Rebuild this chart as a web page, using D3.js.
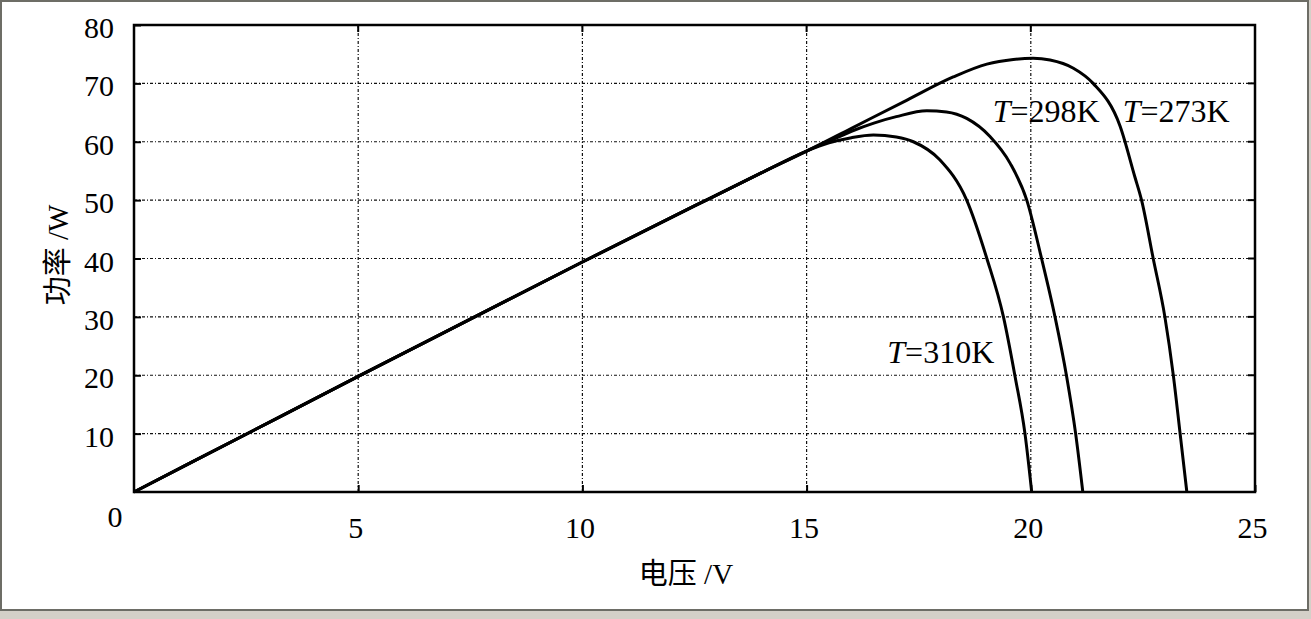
<!DOCTYPE html>
<html>
<head>
<meta charset="utf-8">
<script src="https://cdn.jsdelivr.net/npm/d3@7"></script>
<style>
  html, body { margin: 0; padding: 0; background: #fff; }
  svg { display: block; }
</style>
</head>
<body>
<svg id="chart" width="1311" height="619"></svg>
<script>
// ---- data ----
const xTicks = [0, 5, 10, 15, 20, 25];
const yTicks = [10, 20, 30, 40, 50, 60, 70, 80];

const v310 = [0, 2.5, 5, 7.5, 10, 12.5, 14, 15, 15.5, 16, 16.49, 17, 17.38, 17.97, 18.57, 19.02, 19.39, 19.65, 19.87, 20.02];
const p310 = [0, 9.9, 19.8, 29.6, 39.4, 49.0, 54.7, 58.4, 59.8, 60.7, 61.15, 60.8, 60.0, 56.9, 50.0, 40.0, 30.0, 19.75, 10.0, 0];

const v298 = [0, 2.5, 5, 7.5, 10, 12.5, 14, 15, 15.5, 16, 16.5, 17, 17.68, 18.12, 18.57, 19.09, 19.54, 19.91, 20.24, 20.54, 20.8, 21.0, 21.16];
const p298 = [0, 9.9, 19.8, 29.6, 39.4, 49.0, 54.7, 58.4, 60.1, 61.8, 63.2, 64.3, 65.3, 65.1, 64.0, 60.9, 56.3, 50.0, 40.0, 30.0, 19.75, 10.0, 0];

const v273 = [0, 2.5, 5, 7.5, 10, 12.5, 14, 15, 16, 17.23, 18.27, 19.02, 19.61, 20.05, 20.43, 20.95, 21.39, 21.99, 22.32, 22.47, 22.73, 22.99, 23.18, 23.33, 23.48];
const p273 = [0, 9.9, 19.8, 29.6, 39.4, 49.0, 54.7, 58.4, 62.3, 67.1, 71.1, 73.3, 74.1, 74.3, 74.0, 72.6, 70.0, 62.7, 54.0, 50.0, 40.0, 30.0, 19.9, 10.0, 0];

const seriesLabels = ["T=310K", "T=298K", "T=273K"];
const labelAt = [[16.8, 22.1], [19.15, 63.3], [22.05, 63.3]];

// ---- layout ----
const svg = d3.select("#chart");
const W = 1311, H = 619;
const L = 134, R = 1255, T = 25, B = 492;

// page frame
svg.append("rect").attr("x", 0).attr("y", 0).attr("width", W).attr("height", H).attr("fill", "#d4d0c8");
svg.append("rect").attr("x", 1).attr("y", 1).attr("width", 1307).attr("height", 609).attr("fill", "#fff")
  .attr("stroke", "#6d6d66").attr("stroke-width", 2);

const x = d3.scaleLinear().domain([0, 25]).range([L, R]);
const y = d3.scaleLinear().domain([0, 80]).range([B, T]);

const serif = "'Liberation Serif','Times New Roman','Noto Sans CJK SC',serif";

// grid
const grid = svg.append("g").attr("stroke", "#111").attr("stroke-width", 1.2).attr("stroke-dasharray", "3,2,1,2");
grid.selectAll("line.h").data(yTicks.filter(d => d > 0 && d < 80)).enter().append("line")
  .attr("x1", L).attr("x2", R).attr("y1", d => y(d)).attr("y2", d => y(d));
grid.selectAll("line.v").data(xTicks.filter(d => d > 0 && d < 25)).enter().append("line")
  .attr("y1", T).attr("y2", B).attr("x1", d => x(d)).attr("x2", d => x(d));

// axes (ticks inward, labels outside)
const yAxis = d3.axisLeft(y).tickValues(yTicks).tickSize(-7).tickPadding(20).tickFormat(d3.format("d"));
const gy = svg.append("g").attr("transform", `translate(${L},0)`).call(yAxis);
gy.select(".domain").remove();
gy.selectAll("line").attr("stroke", "#000").attr("stroke-width", 2);
gy.selectAll("text").attr("font-family", serif).attr("font-size", 30).attr("fill", "#000").attr("dy", "0.42em");

const xAxis = d3.axisBottom(x).tickValues(xTicks.filter(d => d > 0)).tickSize(-7).tickPadding(25).tickFormat(d3.format("d"));
const gx = svg.append("g").attr("transform", `translate(0,${B})`).call(xAxis);
gx.select(".domain").remove();
gx.selectAll("line").attr("stroke", "#000").attr("stroke-width", 2);
gx.selectAll("text").attr("font-family", serif).attr("font-size", 30).attr("fill", "#000").attr("dx", -3);

svg.append("text").attr("x", x(0) - 19).attr("y", 527).attr("text-anchor", "middle")
  .attr("font-family", serif).attr("font-size", 30).text(xTicks[0]);

// top/right ticks
const tt = svg.append("g").attr("stroke", "#000").attr("stroke-width", 2);
tt.selectAll("line.t").data(xTicks.filter(d => d > 0 && d < 25)).enter().append("line")
  .attr("x1", d => x(d)).attr("x2", d => x(d)).attr("y1", T).attr("y2", T + 7);
tt.selectAll("line.r").data(yTicks.filter(d => d > 0 && d < 80)).enter().append("line")
  .attr("y1", d => y(d)).attr("y2", d => y(d)).attr("x1", R).attr("x2", R - 7);

// frame
svg.append("rect").attr("x", L).attr("y", T).attr("width", R - L).attr("height", B - T)
  .attr("fill", "none").attr("stroke", "#000").attr("stroke-width", 2.5);

// curves
const line = d3.line().x(d => x(d[0])).y(d => y(d[1])).curve(d3.curveMonotoneX);
const series = [[v310, p310], [v298, p298], [v273, p273]];
svg.append("g").selectAll("path").data(series).enter().append("path")
  .attr("d", s => line(d3.zip(s[0], s[1])))
  .attr("fill", "none").attr("stroke", "#000").attr("stroke-width", 3).attr("stroke-linejoin", "round");

// series labels
seriesLabels.forEach((lab, i) => {
  const t = svg.append("text").attr("x", x(labelAt[i][0])).attr("y", y(labelAt[i][1]))
    .attr("font-family", serif).attr("font-size", 32).attr("fill", "#000");
  t.append("tspan").attr("font-style", "italic").text(lab.slice(0, 1));
  t.append("tspan").text(lab.slice(1));
});

// axis titles
svg.append("text").attr("x", 686).attr("y", 584).attr("text-anchor", "middle")
  .attr("font-family", serif).attr("font-size", 29).attr("fill", "#000").text("电压 /V");
svg.append("text").attr("transform", "translate(68,255) rotate(-90)").attr("text-anchor", "middle")
  .attr("font-family", serif).attr("font-size", 29).attr("fill", "#000").text("功率 /W");
</script>
</body>
</html>
